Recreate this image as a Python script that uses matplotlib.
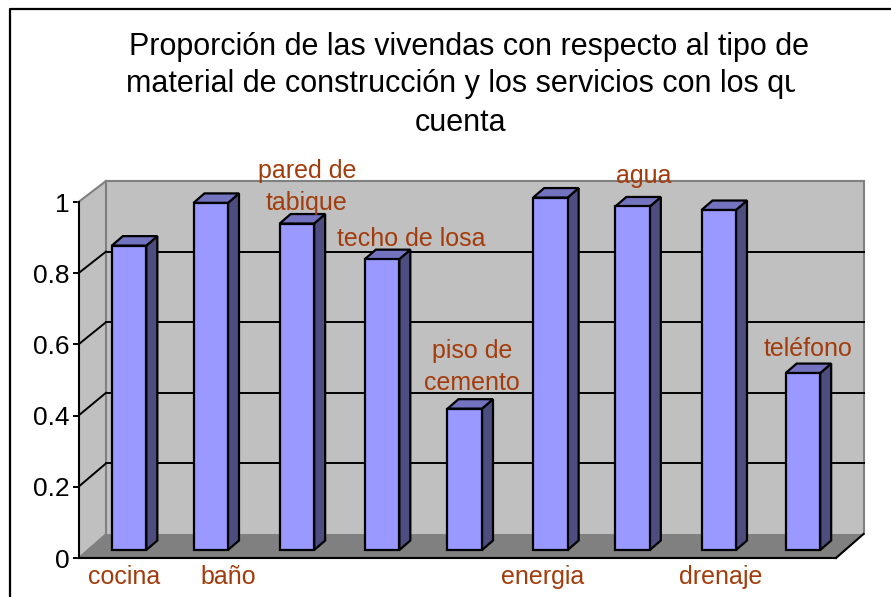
import matplotlib
matplotlib.use("Agg")
import matplotlib.pyplot as plt
from matplotlib.patches import Polygon
from matplotlib.lines import Line2D
from matplotlib.transforms import IdentityTransform, Bbox
import numpy as np

categories = ["cocina", "baño", "pared de\ntabique", "techo de losa", "piso de\ncemento",
              "energia", "agua", "drenaje", "teléfono"]
values = [0.855, 0.975, 0.917, 0.817, 0.397, 0.99, 0.965, 0.955, 0.497]
yticks = [0, 0.2, 0.4, 0.6, 0.8, 1]
ytick_labels = ["0", "0.2", "0.4", "0.6", "0.8", "1"]
title_lines = ["Proporción de las vivendas con respecto al tipo de",
               "material de construcción y los servicios con los que",
               "cuenta"]

W, H = 891, 597
plt.rcParams["font.family"] = ["Liberation Sans", "DejaVu Sans"]
fig = plt.figure(figsize=(W / 100, H / 100), dpi=100)
L, R, T, B = 78.5, 836, 202, 558
ax = fig.add_axes([L / W, 1 - B / H, (R - L) / W, (B - T) / H])
ax.set_xlim(-0.5, 8.5)
ax.set_ylim(0, 1)
ax.patch.set_visible(False)
for s in ("top", "right"):
    ax.spines[s].set_visible(False)
for s in ("left", "bottom"):
    ax.spines[s].set_linewidth(1.5)
    ax.spines[s].set_zorder(6)
ax.set_xticks([])
ax.set_yticks(yticks)
ax.set_yticklabels(ytick_labels, fontsize=19, color="black")
ax.tick_params(axis="y", length=4.5, width=1.4, pad=2)
ID = IdentityTransform()

DX = 27.5


def off(v):
    return np.array([DX, 24.0 - 3.0 * v])


def d(x, y):
    return ax.transData.transform((x, y))


def poly(pts, fc, ec="none", lw=0.0, z=2):
    ax.add_patch(Polygon(pts, closed=True, fc=fc, ec=ec, lw=lw, transform=ID, clip_on=False, zorder=z,
                         joinstyle="miter"))


def line(a, b, color="black", lw=1.4, z=3):
    ax.add_line(Line2D([a[0], b[0]], [a[1], b[1]], color=color, lw=lw, transform=ID, clip_on=False, zorder=z,
                       solid_capstyle="projecting"))


x0, x1 = ax.get_xlim()
fl, fr, tl, tr = d(x0, 0), d(x1, 0), d(x0, 1), d(x1, 1)
GRAY = "#808080"
poly([fl + off(0), fr + off(0), tr + off(1), tl + off(1)], "#C0C0C0")
poly([fl, fl + off(0), tl + off(1), tl], "#C0C0C0")
poly([fl, fr, fr + off(0), fl + off(0)], GRAY)
line(fl + off(0), tl + off(1), GRAY, 1.5)
line(tl, tl + off(1), GRAY, 1.5)
line(tl + off(1), tr + off(1), GRAY, 1.5)
line(fr + off(0), tr + off(1), GRAY, 1.5)
line(fl, fl + off(0), GRAY, 1.2)
line(fr, fr + off(0), "black", 1.5, z=6)
for v in yticks[1:-1]:
    a = d(x0, v)
    b = d(x1, v)
    line(a, a + off(v), "black", 1.4)
    line(a + off(v), b + off(v), "black", 1.4)

# 3-D bars, drawn from the values through the axes scale
SHIFT = np.array([9.0, 8.0])
DEPTH = np.array([11.0, 9.5])
BW = 34.5 / ((R - L) / 9)
nudge = [-0.5, -3, -1, 0, -1.5, 0, -2, 0, 0]
for i, v in enumerate(values):
    x_a = i - BW / 2
    x_b = i + BW / 2
    s = SHIFT + [nudge[i], 0]
    a0, b0, a1, b1 = d(x_a, 0) + s, d(x_b, 0) + s, d(x_a, v) + s, d(x_b, v) + s
    kw = dict(ec="black", lw=1.6, z=5)
    poly([b0, b0 + DEPTH, b1 + DEPTH, b1], "#4D4D80", **kw)
    poly([a1, b1, b1 + DEPTH, a1 + DEPTH], "#7373BF", **kw)
    poly([a0, b0, b1, a1], "#9999FF", **kw)

LABEL = "#A33C0C"
label_pos = [(124.5, 577), (228, 577), (307, 187), (411, 239), (472, 367), (543, 577), (644, 176), (721, 577), (808, 349)]
for name, (px, py) in zip(categories, label_pos):
    fig.text(px / W, 1 - py / H, name, color=LABEL, fontsize=18, ha="center", va="center", linespacing=1.45)

# title
fig.text(469 / W, 1 - 47 / H, title_lines[0], fontsize=22, ha="center", va="center")
t2 = fig.text(126 / W, 1 - 84 / H, title_lines[1], fontsize=22, ha="left", va="center")
t2.set_clip_on(True)
t2.set_clip_box(Bbox([[0, 0], [795, H]]))
fig.text(461 / W, 1 - 123 / H, title_lines[2], fontsize=22, ha="center", va="center")

# outer frame
fig.add_artist(Line2D([10 / W, 10 / W, 1], [0, 1 - 9 / H, 1 - 9 / H], color="black", lw=1.6, transform=fig.transFigure))
fig.savefig("out.png", dpi=100)
